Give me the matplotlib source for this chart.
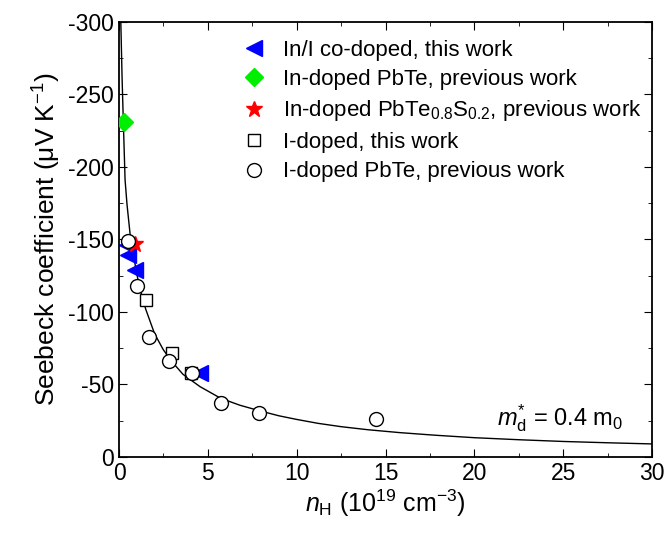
import matplotlib
matplotlib.use("Agg")
from matplotlib import pyplot as plt

plt.rcParams['font.family'] = ['Liberation Sans', 'DejaVu Sans']
plt.rcParams['mathtext.fontset'] = 'custom'
plt.rcParams['mathtext.rm'] = 'Liberation Sans'
plt.rcParams['mathtext.it'] = 'Liberation Sans:italic'
plt.rcParams['axes.unicode_minus'] = False

# In/I co-doped, this work
tri_n = [0.45, 0.49, 0.88, 4.56]
tri_s = [-146, -139, -129, -58]
# In-doped PbTe, previous work
dia_n = [0.28]
dia_s = [-231]
# In-doped PbTe0.8S0.2, previous work
star_n = [0.9]
star_s = [-147]
# I-doped, this work
sq_n = [1.5, 2.98, 4.03]
sq_s = [-108, -72, -58]
# I-doped PbTe, previous work
circ_n = [0.49, 1.0, 1.67, 2.81, 4.12, 5.72, 7.9, 14.46]
circ_s = [-149, -118, -83, -66, -58, -37.4, -30.6, -26.4]

# model curve, m*_d = 0.4 m0
fit_n = [0.10, 0.17, 0.24, 0.34, 0.45, 0.62, 0.86, 1.0, 1.25, 1.5, 2.0, 2.49,
         2.96, 3.6, 4.56, 5.72, 6.8, 7.9, 9.0, 10, 11.2, 12.5, 14.0, 15.8,
         17.8, 20, 22.5, 25, 27.5, 30]
fit_s = [-300, -262, -232, -191, -174, -154, -136, -126, -113, -102, -85, -74,
         -66, -57, -48.5, -40.5, -35.7, -31.9, -28.4, -25.9, -23.2, -20.9, -18.8, -16.8,
         -15.0, -13.3, -11.9, -10.7, -9.8, -9.0]

fig = plt.figure(figsize=(6.71, 5.38), dpi=100)
ax = fig.add_axes([0.1774, 0.1506, 0.7943, 0.8085])

ax.plot(fit_n, fit_s, color='black', lw=1.0, zorder=1)
ax.plot(tri_n, tri_s, ls='none', marker='<', ms=11, color='#0000ff', mec='#0000ff',
        label='In/I co-doped, this work', zorder=2)
ax.plot(dia_n, dia_s, ls='none', marker='D', ms=9, color='#00ee00', mec='#00ee00',
        label='In-doped PbTe, previous work', zorder=3)
ax.plot(star_n, star_s, ls='none', marker='*', ms=12, color='#ff0000', mec='#ff0000',
        label='In-doped PbTe$_{0.8}$S$_{0.2}$, previous work', zorder=4)
ax.plot(sq_n, sq_s, ls='none', marker='s', ms=9, mfc='white', mec='black', mew=1.0,
        label='I-doped, this work', zorder=5)
ax.plot(circ_n, circ_s, ls='none', marker='o', ms=10, mfc='white', mec='black', mew=1.0,
        label='I-doped PbTe, previous work', zorder=6)

ax.set_xlim(0, 30)
ax.set_ylim(0, -300)
ax.set_xticks([0, 5, 10, 15, 20, 25, 30])
ax.set_xticks([2.5, 7.5, 12.5, 17.5, 22.5, 27.5], minor=True)
ax.set_yticks([0, -50, -100, -150, -200, -250, -300])
ax.set_yticks([-25, -75, -125, -175, -225, -275], minor=True)
ax.tick_params(which='both', direction='in', top=True, right=True, labelsize=16.5)
ax.tick_params(which='major', length=6)
ax.tick_params(which='minor', length=3)
for s in ax.spines.values():
    s.set_linewidth(1.3)

ax.set_xlabel(r'$n_{\mathrm{H}}$ (10$^{19}$ cm$^{-3}$)', fontsize=18, labelpad=2)
ax.set_ylabel(r'Seebeck coefficient ($\mathrm{\mu}$V K$^{-1}$)', fontsize=19, labelpad=4)

ax.text(21.3, -27, r'$m^{*}_{\mathrm{d}}$ = 0.4 m$_{0}$', fontsize=17, ha='left', va='center')

ax.legend(loc='upper left', bbox_to_anchor=(0.212, 0.98), frameon=False, fontsize=16,
          handlelength=1.2, handletextpad=0.7, labelspacing=0.38, borderaxespad=0)

fig.savefig('out.png', dpi=100)
